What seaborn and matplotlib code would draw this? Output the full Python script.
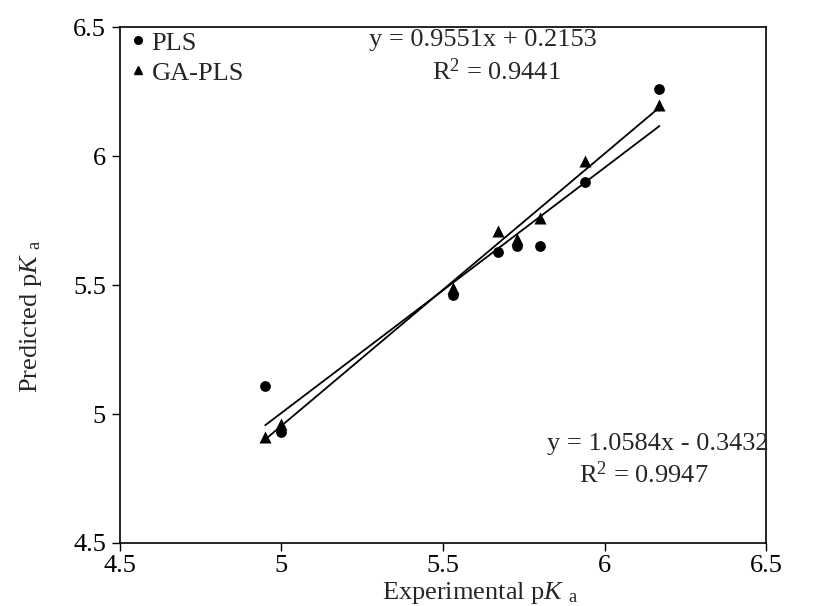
import numpy as np
import matplotlib
matplotlib.use("Agg")
import matplotlib.pyplot as plt
from matplotlib.lines import Line2D
import pandas as pd
import seaborn as sns

# experimental vs predicted pKa values
experimental = [4.95, 5.00, 5.53, 5.67, 5.73, 5.80, 5.94, 6.17]
pred_pls = [5.11, 4.93, 5.46, 5.63, 5.65, 5.65, 5.90, 6.26]
pred_gapls = [4.91, 4.96, 5.49, 5.71, 5.68, 5.76, 5.98, 6.20]

eq_pls = "y = 0.9551x + 0.2153"
r2_pls = "R$^2$ = 0.9441"
eq_gapls = "y = 1.0584x - 0.3432"
r2_gapls = "R$^2$ = 0.9947"

ticks = [4.5, 5, 5.5, 6, 6.5]
tick_labels = ["4.5", "5", "5.5", "6", "6.5"]

sns.set_style("white")
plt.rcParams["font.family"] = ["Liberation Serif", "DejaVu Serif"]
plt.rcParams["mathtext.fontset"] = "custom"
plt.rcParams["mathtext.rm"] = "Liberation Serif"
plt.rcParams["mathtext.it"] = "Liberation Serif:italic"

FS = 19

df = pd.DataFrame({"exp": experimental, "pls": pred_pls, "ga": pred_gapls})

fig = plt.figure(figsize=(8.15, 6.06), dpi=100)
ax = fig.add_axes([0.147, 0.104, 0.793, 0.851])

sns.regplot(data=df, x="exp", y="pls", ax=ax, ci=None, truncate=True,
            marker="o", color="black",
            scatter_kws={"s": 60, "zorder": 3, "alpha": 1, "linewidths": 0},
            line_kws={"lw": 1.3, "color": "black"})
sns.regplot(data=df, x="exp", y="ga", ax=ax, ci=None, truncate=True,
            marker="^", color="black",
            scatter_kws={"s": 75, "zorder": 3, "alpha": 1, "linewidths": 0},
            line_kws={"lw": 1.3, "color": "black"})

ax.set_xlim(4.5, 6.5)
ax.set_ylim(4.5, 6.5)
ax.set_xticks(ticks)
ax.set_xticklabels(tick_labels)
ax.set_yticks(ticks)
ax.set_yticklabels(tick_labels)
ax.tick_params(axis="both", which="both", direction="out", length=6, width=1,
               labelsize=FS, bottom=True, left=True, pad=4, colors="black")
ax.tick_params(axis="x", pad=3)
for s in ax.spines.values():
    s.set_color("black")
    s.set_linewidth(1.2)

ax.set_xlabel(r"Experimental p$K$ $_{\rm a}$", fontsize=FS)
ax.set_ylabel(r"Predicted p$K$ $_{\rm a}$", fontsize=FS)
ax.xaxis.set_label_coords(0.557, -0.072)
ax.yaxis.set_label_coords(-0.118, 0.44)

# legend
handles = [Line2D([], [], ls="none", marker="o", color="black", ms=5.5),
           Line2D([], [], ls="none", marker="^", color="black", ms=5.5)]
ax.legend(handles, ["PLS", "GA-PLS"], loc="upper left", frameon=False,
          bbox_to_anchor=(0.0, 1.013), fontsize=FS, handletextpad=0.2,
          borderaxespad=0, labelspacing=0.25, handlelength=0.6)

ax.text(0.562, 0.975, eq_pls, transform=ax.transAxes, ha="center", va="center", fontsize=FS)
ax.text(0.582, 0.913, r2_pls, transform=ax.transAxes, ha="center", va="center", fontsize=FS)
ax.text(0.833, 0.192, eq_gapls, transform=ax.transAxes, ha="center", va="center", fontsize=FS)
ax.text(0.81, 0.132, r2_gapls, transform=ax.transAxes, ha="center", va="center", fontsize=FS)

fig.savefig("out.png", dpi=100)
